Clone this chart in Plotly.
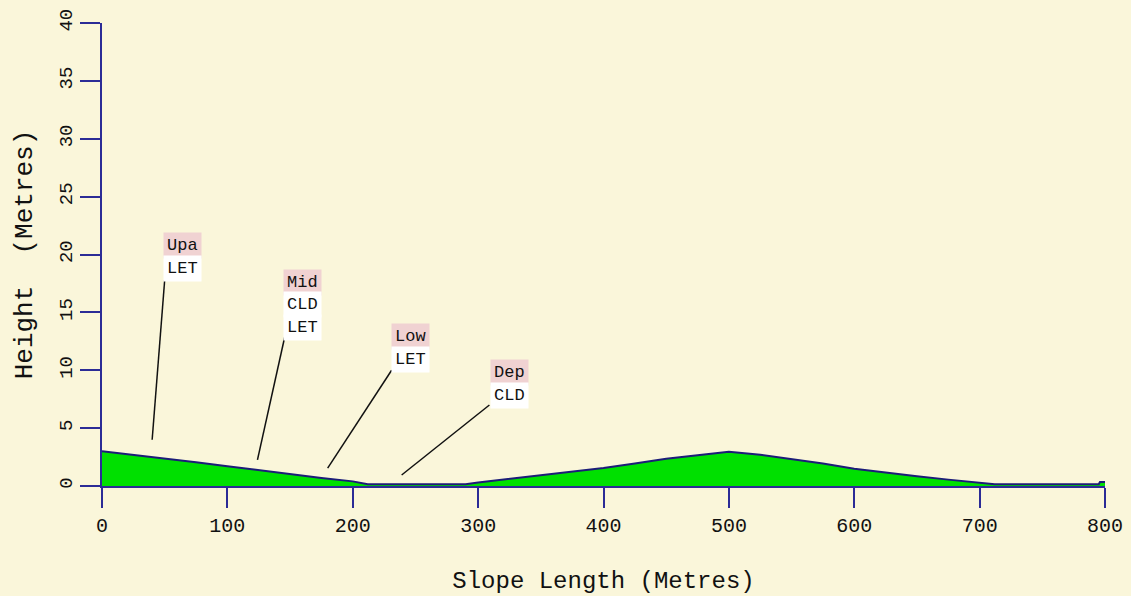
import plotly.graph_objects as go

# Slope profile (distance along slope in metres, height in metres)
slope_x = [0, 25, 50, 75, 100, 125, 150, 175, 200, 212, 250, 290, 300, 325, 350, 375, 400,
           425, 450, 475, 500, 525, 550, 575, 600, 625, 650, 675, 700, 712, 750, 795, 796, 800]
slope_h = [3.0, 2.7, 2.35, 2.05, 1.7, 1.35, 1.05, 0.7, 0.4, 0.15, 0.15, 0.15, 0.3, 0.6, 0.9,
           1.2, 1.55, 1.95, 2.35, 2.65, 2.95, 2.7, 2.35, 1.95, 1.5, 1.15, 0.85, 0.55, 0.3, 0.15,
           0.15, 0.15, 0.35, 0.35]

# Landform unit labels: first line highlighted, remaining lines plain
label_lines = [["Upa", "LET"], ["Mid", "CLD", "LET"], ["Low", "LET"], ["Dep", "CLD"]]
label_x = [48.5, 144.5, 230.5, 309.5]          # left edge of label (m)
label_top_y = [20.75, 17.6, 12.9, 9.8]         # centre of first line (m)
line_step = 1.95                               # spacing between label lines (m)

# Leader lines: from label to point on the profile
leader_x0 = [50, 146, 231, 309]
leader_y0 = [17.8, 13.0, 10.0, 7.0]
leader_x1 = [40, 124, 180, 239]
leader_y1 = [4.0, 2.25, 1.55, 0.95]

x_ticks = [0, 100, 200, 300, 400, 500, 600, 700, 800]
y_ticks = [0, 5, 10, 15, 20, 25, 30, 35, 40]

BG = "#FAF6DA"
AXIS = "#2B2B96"
FONT = "Liberation Mono"

fig = go.Figure()

fig.add_trace(go.Scatter(
    x=slope_x, y=slope_h, mode="lines", line=dict(color="#1C1C78", width=2),
    fill="tozeroy", fillcolor="#00E000", hoverinfo="skip", showlegend=False))

for i in range(len(leader_x0)):
    fig.add_trace(go.Scatter(
        x=[leader_x0[i], leader_x1[i]], y=[leader_y0[i], leader_y1[i]], mode="lines",
        line=dict(color="#111111", width=1.5), hoverinfo="skip", showlegend=False))

for i, lines in enumerate(label_lines):
    for j, txt in enumerate(lines):
        fig.add_annotation(
            x=label_x[i], y=label_top_y[i] - j * line_step, text=txt, showarrow=False,
            xanchor="left", yanchor="middle", xref="x", yref="y",
            font=dict(family=FONT, size=17, color="#111111"),
            bgcolor="#F0D2D2" if j == 0 else "#FFFFFF", borderpad=3)

fig.update_xaxes(
    range=[0, 800], tickvals=x_ticks, ticktext=[str(v) for v in x_ticks],
    showline=True, linecolor=AXIS, linewidth=2, ticks="outside", ticklen=20,
    tickcolor=AXIS, tickwidth=2, showgrid=False, zeroline=False, automargin=False,
    tickfont=dict(family=FONT, size=20, color="#111111"),
    title=dict(text="Slope Length (Metres)", font=dict(family=FONT, size=24, color="#111111"),
               standoff=34))
fig.update_yaxes(
    range=[0, 40], tickvals=y_ticks, ticktext=[str(v) for v in y_ticks],
    showline=True, linecolor=AXIS, linewidth=2, ticks="outside", ticklen=20,
    tickcolor=AXIS, tickwidth=2, showgrid=False, zeroline=False, tickangle=-90,
    automargin=False,
    tickfont=dict(family=FONT, size=19, color="#111111"),
    title=dict(text="Height  (Metres)", font=dict(family=FONT, size=26, color="#111111"),
               standoff=16))

fig.update_layout(
    width=1131, height=596, autosize=False,
    margin=dict(l=102, r=26, t=23, b=110),
    paper_bgcolor=BG, plot_bgcolor=BG)

fig.write_html("out.html", config={"displayModeBar": False},
               post_script="document.body.style.margin='0';document.body.style.background='%s';" % BG)
